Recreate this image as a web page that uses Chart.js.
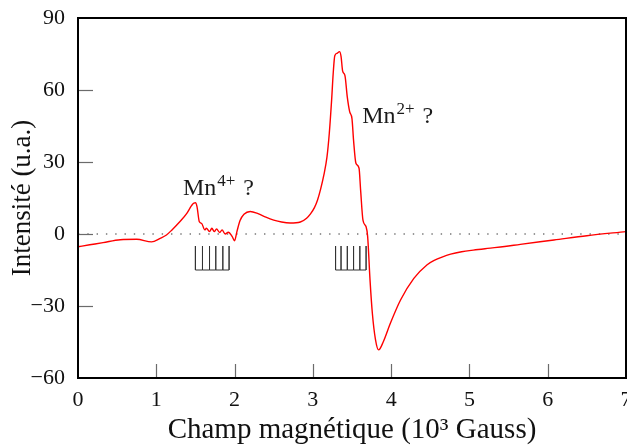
<!DOCTYPE html>
<html><head><meta charset="utf-8">
<script src="https://cdn.jsdelivr.net/npm/chart.js@4/dist/chart.umd.min.js"></script>
<style>html,body{margin:0;padding:0;background:#fff}canvas{display:block}</style>
</head><body>
<canvas id="c" width="627" height="445"></canvas>
<script>
// Spectrum: magnetic field (10^3 Gauss) vs intensity (a.u.)
const fieldKG = [0, 0.15, 0.32, 0.54, 0.75, 0.94, 1.05, 1.13, 1.2, 1.3, 1.39, 1.45, 1.48, 1.5, 1.52, 1.55, 1.58, 1.62, 1.64, 1.68, 1.71, 1.74, 1.77, 1.81, 1.84, 1.88, 1.92, 1.97, 2.0, 2.03, 2.07, 2.12, 2.2, 2.3, 2.4, 2.5, 2.6, 2.71, 2.84, 2.92, 2.97, 3.02, 3.06, 3.1, 3.14, 3.18, 3.21, 3.24, 3.26, 3.28, 3.31, 3.34, 3.36, 3.38, 3.41, 3.44, 3.47, 3.5, 3.52, 3.55, 3.59, 3.61, 3.64, 3.68, 3.7, 3.73, 3.76, 3.8, 3.84, 3.9, 3.99, 4.12, 4.29, 4.46, 4.55, 4.65, 4.76, 4.9, 5.05, 5.23, 5.45, 5.65, 6.08, 6.5, 7.0];
const intensity = [-5.3, -4.5, -3.6, -2.4, -2.2, -3.3, -1.8, -0.4, 1.7, 5.1, 8.6, 11.8, 12.9, 13, 11.4, 5.1, 4.4, 1.7, 2.4, 1, 2.4, 1, 2.1, 0.6, 1.7, 0, 0.7, -1.1, -2.8, 1, 5.6, 8.2, 9.4, 8.5, 7.0, 5.8, 5.0, 4.6, 5.0, 6.6, 8.4, 11.0, 14.2, 18.8, 24.5, 32, 42, 56, 67, 74.3, 75.3, 76, 74, 68, 66, 57, 51, 48, 39, 29.5, 27.4, 18.3, 5.8, 3, -1.1, -19, -33, -44, -48.3, -44.9, -37.2, -27.5, -18.5, -12.8, -11, -9.6, -8.4, -7.4, -6.7, -6.0, -5.2, -4.3, -2.5, -0.7, 1];
const xTicks = [0, 1, 2, 3, 4, 5, 6, 7];
const yTicks = [-60, -30, 0, 30, 60, 90];
// Hyperfine stick patterns
const mn4Sticks = [1.50, 1.59, 1.68, 1.76, 1.85, 1.93];
const mn2Sticks = [3.29, 3.36, 3.44, 3.52, 3.60, 3.68];
const stickTop = -5, stickBottom = -15;
// Annotations
const annotMain = ['Mn', 'Mn'];
const annotSup = ['4+', '2+'];
const annotX = [1.34, 3.63];
const annotY = [16.2, 46.1];

const FONT = '"Liberation Serif", "DejaVu Serif", serif';

function comb(xs) {
  const pts = [];
  xs.forEach((v, i) => {
    pts.push({x: v, y: stickTop});
    pts.push({x: v, y: stickBottom});
    if (i < xs.length - 1) pts.push({x: xs[i + 1], y: stickBottom});
  });
  return pts;
}

const framePlugin = {
  id: 'frame',
  afterDatasetsDraw(chart) {
    const {ctx, chartArea: a, scales: {x, y}} = chart;
    ctx.save();
    ctx.strokeStyle = '#6b6b6b';
    ctx.lineWidth = 1.2;
    xTicks.forEach(v => {
      if (v <= x.min || v >= x.max) return;
      const px = Math.round(x.getPixelForValue(v)) + 0.5;
      ctx.beginPath(); ctx.moveTo(px, a.bottom); ctx.lineTo(px, a.bottom - 14); ctx.stroke();
    });
    yTicks.forEach(v => {
      if (v <= y.min || v >= y.max) return;
      const py = Math.round(y.getPixelForValue(v)) + 0.5;
      ctx.beginPath(); ctx.moveTo(a.left, py); ctx.lineTo(a.left + 15, py); ctx.stroke();
    });
    ctx.strokeStyle = '#000';
    ctx.lineWidth = 2;
    ctx.strokeRect(a.left, a.top, a.right - a.left, a.bottom - a.top);
    // annotations
    ctx.fillStyle = '#1a1a1a';
    ctx.textBaseline = 'alphabetic';
    ctx.textAlign = 'left';
    annotMain.forEach((t, i) => {
      let px = x.getPixelForValue(annotX[i]);
      const py = y.getPixelForValue(annotY[i]);
      ctx.font = '24px ' + FONT;
      ctx.fillText(t, px, py);
      px += ctx.measureText(t).width + 1;
      ctx.font = '17px ' + FONT;
      ctx.fillText(annotSup[i], px, py - 9);
      px += ctx.measureText(annotSup[i]).width;
      ctx.font = '24px ' + FONT;
      ctx.fillText(' ?', px + 2, py);
    });
    ctx.restore();
  }
};

const data = fieldKG.map((v, i) => ({x: v, y: intensity[i]}));

new Chart(document.getElementById('c'), {
  type: 'line',
  data: {
    datasets: [
      {data: data, borderColor: '#ff0000', borderWidth: 1.4, pointRadius: 0, fill: false, cubicInterpolationMode: 'monotone'},
      {data: [{x: xTicks[0], y: 0}, {x: xTicks[xTicks.length - 1], y: 0}], borderColor: '#777', borderWidth: 1.5, borderDash: [1.4, 7.9], pointRadius: 0, fill: false},
      {data: comb(mn4Sticks), borderColor: '#333', borderWidth: 1, pointRadius: 0, fill: false, tension: 0},
      {data: comb(mn2Sticks), borderColor: '#333', borderWidth: 1, pointRadius: 0, fill: false, tension: 0}
    ]
  },
  options: {
    responsive: false,
    animation: false,
    devicePixelRatio: 1,
    layout: {padding: {top: 18, right: 1, left: 0, bottom: 0}},
    plugins: {legend: {display: false}, tooltip: {enabled: false}},
    scales: {
      x: {
        type: 'linear', min: 0, max: 7,
        grid: {display: false, drawTicks: false},
        border: {display: false},
        ticks: {stepSize: 1, color: '#111', font: {family: FONT, size: 22}, padding: 9, maxRotation: 0,
          callback: v => String(v)},
        title: {display: true, text: 'Champ magnétique (10³ Gauss)', color: '#111', font: {family: FONT, size: 29}, padding: {top: 0, bottom: -3}},
        afterFit(s) { s.height = 67; s.paddingLeft = 0; s.paddingRight = 0; }
      },
      y: {
        type: 'linear', min: -60, max: 90,
        grid: {display: false, drawTicks: false},
        border: {display: false},
        ticks: {stepSize: 30, color: '#111', font: {family: FONT, size: 22}, padding: 13,
          callback: v => (v < 0 ? '\u2212' + Math.abs(v) : String(v))},
        title: {display: true, text: 'Intensité (u.a.)', color: '#111', font: {family: FONT, size: 27}, padding: {top: 7, bottom: 0}},
        afterFit(s) { s.width = 78; s.paddingTop = 0; s.paddingBottom = 0; }
      }
    }
  },
  plugins: [framePlugin]
});
</script>
</body></html>
